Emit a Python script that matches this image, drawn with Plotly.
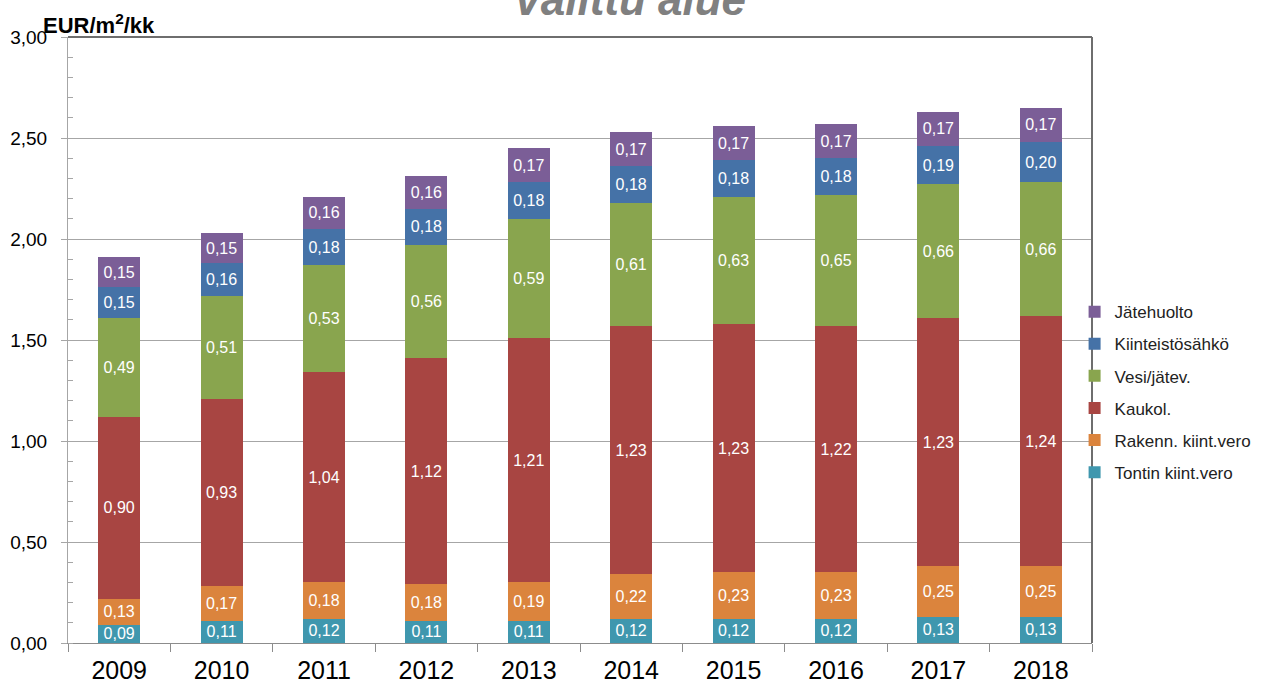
import plotly.graph_objects as go

years = ["2009", "2010", "2011", "2012", "2013", "2014", "2015", "2016", "2017", "2018"]

tontin = [0.09, 0.11, 0.12, 0.11, 0.11, 0.12, 0.12, 0.12, 0.13, 0.13]
rakenn = [0.13, 0.17, 0.18, 0.18, 0.19, 0.22, 0.23, 0.23, 0.25, 0.25]
kaukol = [0.90, 0.93, 1.04, 1.12, 1.21, 1.23, 1.23, 1.22, 1.23, 1.24]
vesi = [0.49, 0.51, 0.53, 0.56, 0.59, 0.61, 0.63, 0.65, 0.66, 0.66]
kiint = [0.15, 0.16, 0.18, 0.18, 0.18, 0.18, 0.18, 0.18, 0.19, 0.20]
jate = [0.15, 0.15, 0.16, 0.16, 0.17, 0.17, 0.17, 0.17, 0.17, 0.17]

series = [
    ("Tontin kiint.vero", tontin, "#3F97AE"),
    ("Rakenn. kiint.vero", rakenn, "#DB843D"),
    ("Kaukol.", kaukol, "#A84542"),
    ("Vesi/jätev.", vesi, "#89A54E"),
    ("Kiinteistösähkö", kiint, "#4572A7"),
    ("Jätehuolto", jate, "#7B5E97"),
]

font_family = "Liberation Sans, Arial, sans-serif"

fig = go.Figure()
n = len(series)
for i, (name, vals, color) in enumerate(series):
    fig.add_trace(go.Bar(
        x=years, y=vals, name=name,
        marker=dict(color=color, line=dict(width=0)),
        texttemplate="%{y:.2f}",
        textposition="inside",
        insidetextanchor="middle",
        textfont=dict(color="white", size=16, family=font_family),
        legendgroup=name,
        legendrank=n - i,
        hoverinfo="skip",
    ))

fig.update_layout(
    barmode="stack",
    bargap=0.59,
    width=1266, height=686,
    margin=dict(l=68, r=174, t=37, b=43, autoexpand=False),
    paper_bgcolor="white",
    plot_bgcolor="white",
    separators=", ",
    font=dict(family=font_family, color="black"),
    uniformtext=dict(minsize=16, mode="show"),
    showlegend=True,
    legend=dict(
        x=0.983, xanchor="left", y=0.414, yanchor="middle",
        traceorder="grouped",
        tracegroupgap=7,
        font=dict(size=17, family=font_family, color="#222"),
        bgcolor="rgba(0,0,0,0)",
    ),
    xaxis=dict(
        type="category",
        range=[-0.5, 9.5],
        automargin=False,
        showline=True, linecolor="#8C8C8C", linewidth=1,
        ticks="outside", tickson="boundaries", ticklen=8, tickcolor="#8C8C8C",
        ticklabelstandoff=5,
        tickfont=dict(size=25, family=font_family, color="black"),
        showgrid=False,
    ),
    yaxis=dict(
        range=[0, 3],
        automargin=False,
        dtick=0.5, tick0=0,
        tickformat=".2f",
        showline=True, linecolor="#A6A6A6", linewidth=1,
        ticks="outside", ticklen=6, tickcolor="#A6A6A6",
        ticklabelstandoff=10,
        tickfont=dict(size=19, family=font_family, color="black"),
        showgrid=True, gridcolor="#A6A6A6", gridwidth=1,
        zeroline=False,
        minor=dict(dtick=0.1, ticks="inside", ticklen=5, tickcolor="#A6A6A6", showgrid=False),
    ),
    shapes=[
        dict(type="line", xref="paper", yref="paper", x0=0, x1=1, y0=1, y1=1,
             line=dict(color="#6E6E6E", width=2)),
        dict(type="line", xref="paper", yref="paper", x0=1, x1=1, y0=0, y1=1,
             line=dict(color="#6E6E6E", width=2)),
    ],
    annotations=[
        dict(text="<b><i>Valittu alue</i></b>", xref="paper", yref="paper",
             x=0.548, y=1.018, xanchor="center", yanchor="bottom", showarrow=False,
             font=dict(size=44, color="#808080", family=font_family)),
        dict(text="<b>EUR/m<sup>2</sup>/kk</b>", xref="paper", yref="paper",
             x=-0.026, y=0.995, xanchor="left", yanchor="bottom", showarrow=False,
             font=dict(size=22, color="black", family=font_family)),
    ],
)

fig.write_html("out.html")
